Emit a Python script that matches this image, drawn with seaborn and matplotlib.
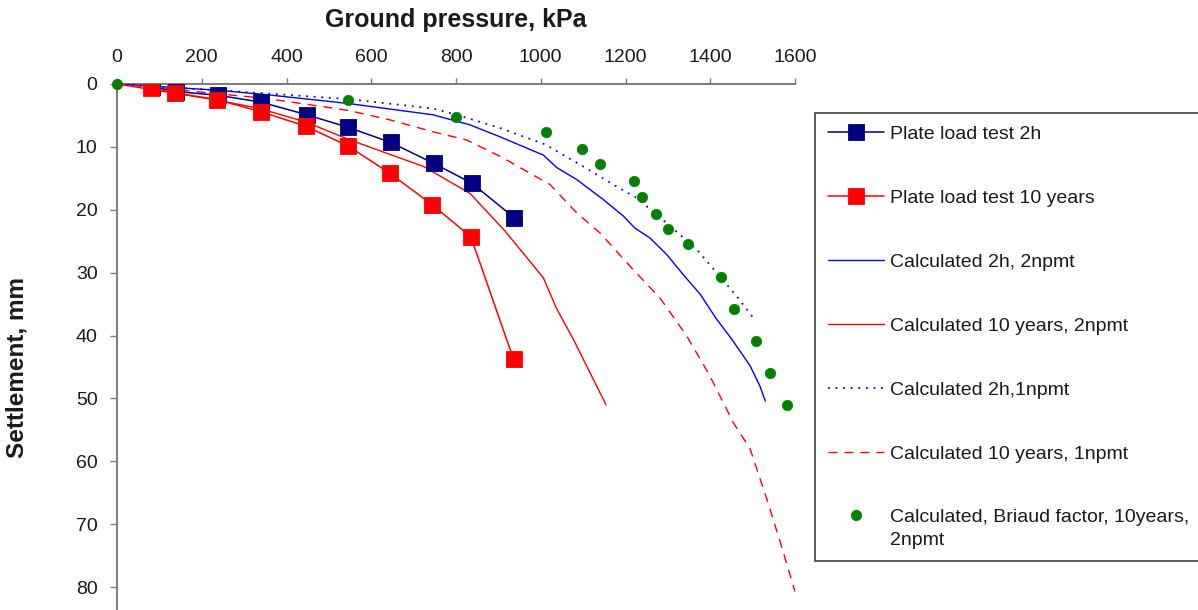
import numpy as np
import matplotlib
matplotlib.use("Agg")
import matplotlib.pyplot as plt
from matplotlib.legend_handler import HandlerLine2D
import seaborn as sns

# ---- data: ground pressure (kPa) vs settlement (mm) ----
plate_2h_p = [82, 139, 239, 341, 448, 546, 646, 747, 838, 938]
plate_2h_s = [0.4, 1.2, 1.8, 2.9, 4.9, 6.9, 9.3, 12.6, 15.8, 21.3]

plate_10y_p = [80, 137, 237, 339, 445, 544, 644, 744, 835, 936]
plate_10y_s = [0.6, 1.4, 2.5, 4.4, 6.7, 9.8, 14.2, 19.2, 24.3, 43.8]

calc_2h_2n_p = [0, 240, 353, 546, 746, 833, 904, 1006, 1038, 1085, 1148, 1195,
                1222, 1258, 1297, 1336, 1376, 1415, 1451, 1494, 1517, 1530]
calc_2h_2n_s = [0, 1.0, 1.7, 3.1, 4.9, 6.5, 8.4, 11.3, 13.3, 15.2, 18.4, 21.0,
                22.9, 24.5, 27.1, 30.3, 33.4, 37.4, 40.6, 44.8, 48.0, 50.4]

calc_10y_2n_p = [0, 231, 337, 448, 546, 636, 723, 833, 916, 1006, 1038, 1077, 1154]
calc_10y_2n_s = [0, 2.5, 3.9, 6.1, 8.8, 11.0, 13.1, 17.4, 23.4, 30.8, 35.8, 40.6, 51.0]

calc_2h_1n_p = [0, 353, 546, 746, 802, 904, 1010, 1100, 1179, 1226, 1297, 1368,
                1415, 1462, 1504]
calc_2h_1n_s = [0, 1.5, 2.4, 3.9, 4.9, 7.0, 9.6, 13.1, 16.3, 18.1, 22.1, 26.3,
                30.0, 33.7, 37.4]

calc_10y_1n_p = [0, 353, 546, 644, 746, 825, 904, 1022, 1085, 1140, 1211, 1281,
                 1344, 1399, 1454, 1494, 1533, 1565, 1600]
calc_10y_1n_s = [0, 2.3, 4.2, 5.7, 7.6, 8.9, 11.5, 16.0, 20.5, 23.7, 29.0, 34.0,
                 40.0, 46.4, 53.8, 58.0, 65.9, 72.8, 80.7]

briaud_p = [0, 545, 800, 1013, 1097, 1140, 1221, 1240, 1271, 1300, 1347, 1426,
            1457, 1508, 1541, 1582]
briaud_s = [0, 2.5, 5.2, 7.6, 10.3, 12.7, 15.4, 17.9, 20.6, 23.0, 25.5, 30.7,
            35.7, 40.8, 45.9, 51.0]

x_ticks = [0, 200, 400, 600, 800, 1000, 1200, 1400, 1600]
y_ticks = [0, 10, 20, 30, 40, 50, 60, 70, 80]

labels = [
    "Plate load test 2h",
    "Plate load test 10 years",
    "Calculated 2h, 2npmt",
    "Calculated 10 years, 2npmt",
    "Calculated 2h,1npmt",
    "Calculated 10 years, 1npmt",
    "Calculated, Briaud factor, 10years,\n2npmt",
]

# ---- style ----
sns.set_style("white")
plt.rcParams["font.family"] = ["Liberation Sans", "DejaVu Sans"]

NAVY = "#000080"
RED = "#ff0000"
BLUE = "#0000ff"
GREEN = "#008000"
AXIS_GREY = "#7a7a7a"
TEXT = "#1a1a1a"

fig = plt.figure(figsize=(11.98, 6.10), dpi=100)
# the settlement axis runs to 90 mm; the lower part lies below the figure edge
ax = fig.add_axes([117 / 1198, 1 - 650 / 610, 678 / 1198, (650 - 84) / 610])

common = dict(ax=ax, sort=False, estimator=None, legend=False)

sns.lineplot(x=calc_2h_2n_p, y=calc_2h_2n_s, color=BLUE, lw=1.0,
             label=labels[2], zorder=3, **common)
sns.lineplot(x=calc_10y_2n_p, y=calc_10y_2n_s, color=RED, lw=1.0,
             label=labels[3], zorder=3, **common)
sns.lineplot(x=calc_2h_1n_p, y=calc_2h_1n_s, color=BLUE, lw=1.3,
             linestyle=(0, (1.0, 3.2)), label=labels[4], zorder=3, **common)
sns.lineplot(x=calc_10y_1n_p, y=calc_10y_1n_s, color=RED, lw=1.0,
             linestyle=(0, (6.5, 5)), label=labels[5], zorder=3, **common)
sns.lineplot(x=plate_2h_p, y=plate_2h_s, color=NAVY, lw=1.1, marker="s",
             markersize=11, markeredgecolor=NAVY, markeredgewidth=0.6,
             label=labels[0], zorder=4, **common)
sns.lineplot(x=plate_10y_p, y=plate_10y_s, color=RED, lw=1.1, marker="s",
             markersize=11, markeredgecolor=RED, markeredgewidth=0.6,
             label=labels[1], zorder=5, **common)
sns.lineplot(x=briaud_p, y=briaud_s, color=GREEN, linestyle="none", marker="o",
             markersize=7.5, markeredgecolor=GREEN, markeredgewidth=0.5,
             label=labels[6], zorder=6, clip_on=False, **common)

# ---- axes ----
ax.set_xlim(0, 1600)
ax.set_ylim(90, 0)
ax.set_xticks(x_ticks)
ax.set_yticks(y_ticks)
ax.xaxis.tick_top()
ax.xaxis.set_label_position("top")
ax.tick_params(axis="x", which="both", direction="out", length=4, width=1.0,
               color=AXIS_GREY, pad=9, labelsize=14, labelcolor=TEXT,
               top=True, bottom=False)
ax.tick_params(axis="y", which="both", direction="out", length=5, width=1.0,
               color=AXIS_GREY, pad=9, labelsize=14, labelcolor=TEXT,
               left=True, right=False)
for side in ("right", "bottom"):
    ax.spines[side].set_visible(False)
for side in ("top", "left"):
    ax.spines[side].set_color(AXIS_GREY)
    ax.spines[side].set_linewidth(1.4)
ax.grid(False)

ax.set_xlabel("Ground pressure, kPa", fontsize=18, fontweight="bold", color=TEXT)
ax.set_ylabel("Settlement, mm", fontsize=17.5, fontweight="bold", color=TEXT)
ax.xaxis.set_label_coords(0.5, 1 + (84 - 27) / 566)
ax.yaxis.set_label_coords(-(117 - 29) / 678, 0.5)


class FirstLineHandler(HandlerLine2D):
    """Puts the marker level with the first line of a two-line label."""

    def __init__(self, lift, **kw):
        super().__init__(**kw)
        self.lift = lift

    def create_artists(self, legend, orig_handle, xdescent, ydescent, width,
                       height, fontsize, trans):
        arts = super().create_artists(legend, orig_handle, xdescent, ydescent,
                                      width, height, fontsize, trans)
        for a in arts:
            a.set_ydata(np.asarray(a.get_ydata(), dtype=float) + self.lift * fontsize)
        return arts


handles, labs = ax.get_legend_handles_labels()
order = [labs.index(l) for l in labels]
handles = [handles[i] for i in order]
labs = [labs[i] for i in order]

leg = ax.legend(
    handles, labs,
    loc="upper left",
    bbox_to_anchor=(815 / 1198, 1 - 113 / 610),
    bbox_transform=fig.transFigure,
    borderaxespad=0,
    frameon=True, fancybox=False, shadow=False, framealpha=1,
    edgecolor="#404040",
    fontsize=14,
    handlelength=2.9,
    handletextpad=0.3,
    borderpad=0.65,
    labelspacing=2.38,
    numpoints=1,
    handler_map={handles[-1]: FirstLineHandler(0.72)},
)
leg.get_frame().set_linewidth(1.2)
for t in leg.get_texts():
    t.set_color(TEXT)
    t.set_linespacing(1.45)

fig.savefig("out.png", dpi=100)
